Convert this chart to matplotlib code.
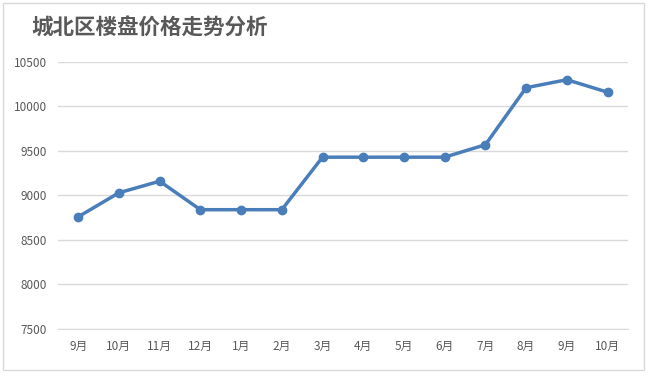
import matplotlib.pyplot as plt
from matplotlib.patches import Rectangle

plt.rcParams['font.family'] = ['Noto Sans CJK SC', 'DejaVu Sans']

months = ["9月", "10月", "11月", "12月", "1月", "2月", "3月",
          "4月", "5月", "6月", "7月", "8月", "9月", "10月"]
prices = [8760, 9030, 9160, 8840, 8840, 8840, 9430,
          9430, 9430, 9430, 9570, 10210, 10300, 10160]
y_ticks = [7500, 8000, 8500, 9000, 9500, 10000, 10500]

fig = plt.figure(figsize=(6.5, 3.73), dpi=100)
ax = fig.add_axes([0.089, 0.118, 0.877, 0.716])

x = range(len(months))
ax.plot(x, prices, color="#4a7ebb", linewidth=2.5, marker="o", markersize=6,
        solid_capstyle="round", zorder=3)

ax.set_xlim(-0.5, len(months) - 0.5)
ax.set_ylim(7500, 10500)
ax.set_yticks(y_ticks)
ax.set_xticks(list(x))
ax.set_xticklabels(months)
ax.yaxis.grid(True, color="#d9d9d9", linewidth=1)
ax.set_axisbelow(True)
for side in ["left", "right", "top"]:
    ax.spines[side].set_visible(False)
ax.spines["bottom"].set_color("#d9d9d9")
ax.tick_params(axis="both", length=0, colors="#595959", labelsize=8.5, pad=8)

fig.text(0.048, 0.925, "城北区楼盘价格走势分析", fontsize=15.5, fontweight="bold",
         color="#595959", va="center")

# light frame round the chart
fig.patches.append(Rectangle((0.005, 0.008), 0.985, 0.984, transform=fig.transFigure,
                             fill=False, edgecolor="#d9d9d9", linewidth=1))

fig.savefig("out.png", dpi=100)
